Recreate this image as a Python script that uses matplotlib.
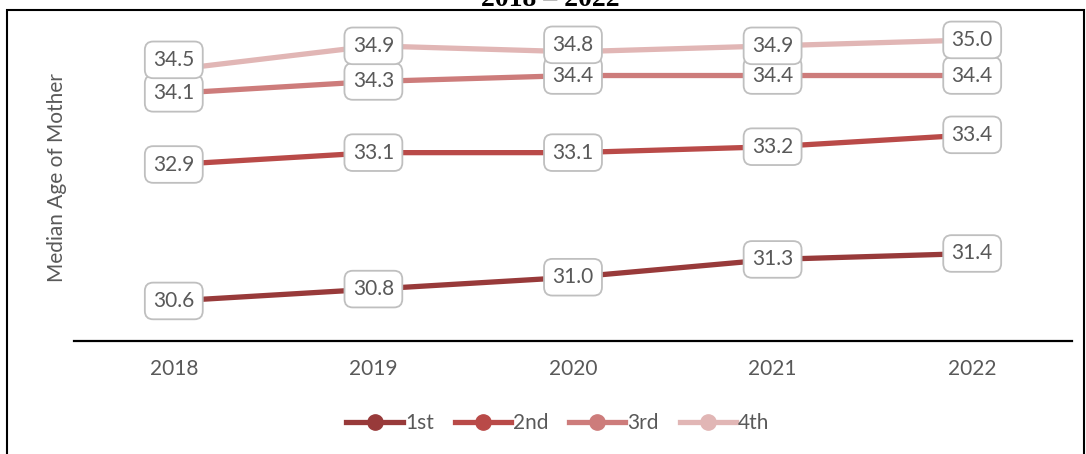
import matplotlib as mpl
import matplotlib.pyplot as plt
from matplotlib.patches import Rectangle

# Data
years = ["2018", "2019", "2020", "2021", "2022"]
first = [30.6, 30.8, 31.0, 31.3, 31.4]
second = [32.9, 33.1, 33.1, 33.2, 33.4]
third = [34.1, 34.3, 34.4, 34.4, 34.4]
fourth = [34.5, 34.9, 34.8, 34.9, 35.0]
series_names = ["1st", "2nd", "3rd", "4th"]

colors = ["#983A3A", "#B94A48", "#CD7C7B", "#E1B6B5"]
# label nudges (points) so overlapping labels sit like the original
nudges = {(3, 0): 7, (3, 2): 5}

plt.rcParams['font.family'] = ['Lato', 'DejaVu Sans']
gray = "#595959"

fig = plt.figure(figsize=(10.86, 4.54), dpi=100)
ax = fig.add_axes([74/1086, 1-341/454, (1072-74)/1086, (341-15)/454])

x = list(range(len(years)))
all_series = [first, second, third, fourth]
for k, vals in enumerate(all_series):
    ax.plot(x, vals, color=colors[k], lw=3.8, solid_capstyle='butt', zorder=2,
            label=series_names[k])

for k, vals in enumerate(all_series):
    for i, v in enumerate(vals):
        ax.annotate(f"{v:.1f}", (i, v), xytext=(0, nudges.get((k, i), 0)),
                    textcoords='offset points', ha='center', va='center',
                    fontsize=15, color=gray, zorder=3 + k,
                    bbox=dict(boxstyle='round,pad=0.4,rounding_size=0.4',
                              fc='white', ec='#BFBFBF', lw=1.3))

ax.set_xlim(-0.5, 4.5)
ax.set_ylim(29.925, 35.42)
ax.set_xticks(x)
ax.set_xticklabels(years)
ax.set_yticks([])
ax.tick_params(axis='x', length=0, pad=13, labelsize=15, labelcolor=gray)
for s in ['top', 'right', 'left']:
    ax.spines[s].set_visible(False)
ax.spines['bottom'].set_linewidth(1.6)
ax.spines['bottom'].set_color('black')
ax.set_ylabel("Median Age of Mother", fontsize=15, color=gray, labelpad=5)

# legend with marker handles
handles = [mpl.lines.Line2D([], [], color=c, lw=3.8, marker='o', markersize=11)
           for c in colors]
fig.legend(handles, series_names, loc='center', bbox_to_anchor=(558/1086, 1-423/454),
           ncol=4, frameon=False, fontsize=15, labelcolor=gray, handlelength=2.7,
           handletextpad=0.1, columnspacing=1.0)

# outer border and clipped title
fig.patches.append(Rectangle((7/1086, -0.05), (1084-7)/1086, 1.05-10/454,
                             transform=fig.transFigure, fill=False, ec='black', lw=1.5))
fig.text(550/1086, 1-6/454, "2018 \u2013 2022", ha='center', va='baseline',
         fontsize=20, fontweight='bold', family=['Liberation Serif', 'DejaVu Serif'])

fig.savefig("out.png", dpi=100)
